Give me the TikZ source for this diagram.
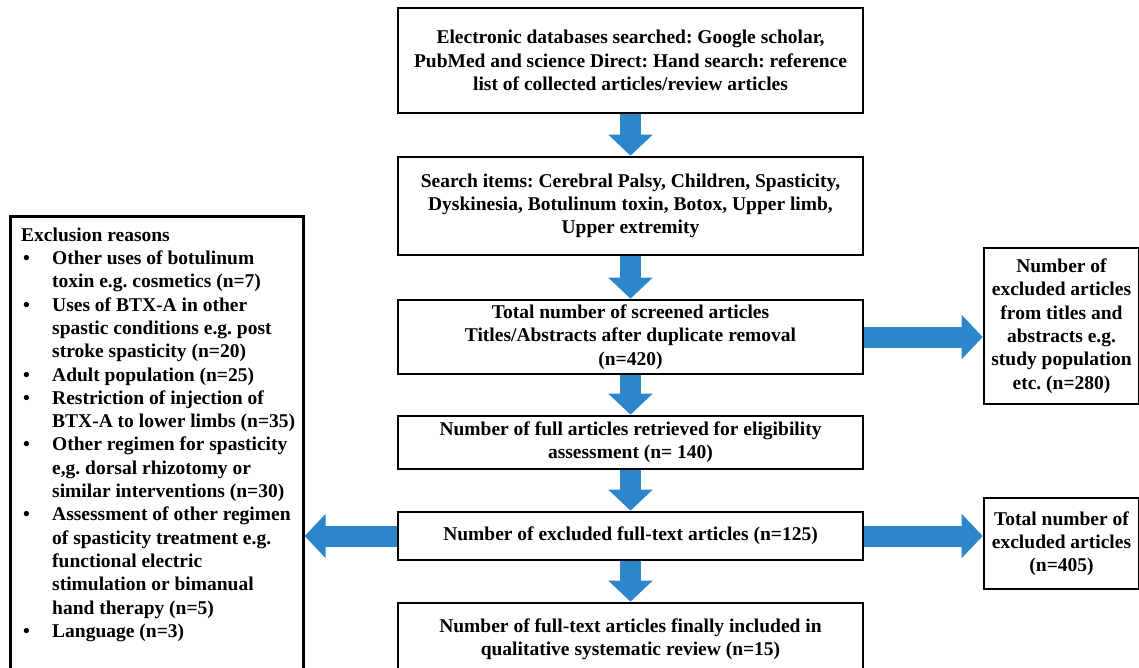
\documentclass[tikz,border=0pt]{standalone}
\usepackage{fontspec}
\setmainfont{Liberation Serif}
\usetikzlibrary{arrows.meta,backgrounds}
\definecolor{arrowblue}{RGB}{43,134,202}
\newcommand\bul{\makebox[31pt][l]{\hspace{2pt}\textbullet}}
\newcommand\ind{\hspace*{31pt}}
\frenchspacing
\tikzset{
 txt/.style={font=\fontsize{19.5}{23.3}\selectfont\bfseries},
 box/.style={txt, draw=black, line width=2.6pt, fill=white, align=center, inner sep=0pt},
 bigarrow/.style={draw=arrowblue, line width=21pt, -{Triangle[length=21pt,width=43pt]}},
}
\begin{document}
\begin{tikzpicture}[x=1pt,y=-1pt]
\path[use as bounding box] (0,0) rectangle (1139,667);
\clip (0,0) rectangle (1139,667);
% main column
\node[box, minimum width=465pt, minimum height=105pt] (b1) at (630.5,60.5)
 {Electronic databases searched: Google scholar,\\ PubMed and science Direct: Hand search: reference\\ list of collected articles/review articles};
\node[box, minimum width=465pt, minimum height=98pt] (b2) at (630.5,206)
 {Search items: Cerebral Palsy, Children, Spasticity,\\ Dyskinesia, Botulinum toxin, Botox, Upper limb,\\ Upper extremity};
\node[box, minimum width=465pt, minimum height=74pt] (b3) at (630.5,337)
 {Total number of screened articles\\ Titles/Abstracts after duplicate removal\\ (n=420)};
\node[box, minimum width=465pt, minimum height=53pt] (b4) at (630.5,442.5)
 {Number of full articles retrieved for eligibility\\ assessment (n= 140)};
\node[box, minimum width=465pt, minimum height=48pt] (b5) at (630.5,536)
 {Number of excluded full-text articles (n=125)};
\node[box, minimum width=465pt, minimum height=72pt] (b6) at (630.5,639)
 {Number of full-text articles finally included in\\ qualitative systematic review (n=15)};
% right column
\node[box, minimum width=155pt, minimum height=156pt] (r1) at (1061.5,326)
 {Number of\\ excluded articles\\ from titles and\\ abstracts e.g.\\ study population\\ etc. (n=280)};
\node[box, minimum width=155pt, minimum height=91pt] (r2) at (1061.5,543.5)
 {Total number of\\ excluded articles\\ (n=405)};
% left box
\node[box, minimum width=293pt, minimum height=470pt, anchor=north west] (L) at (9,215) {};
\node[txt, anchor=north west, align=left, inner sep=0pt] (Ltext) at (21,227.5)
 {Exclusion reasons\\
  \bul Other uses of botulinum\\
  \ind toxin e.g. cosmetics (n=7)\\
  \bul Uses of BTX-A in other\\
  \ind spastic conditions e.g. post\\
  \ind stroke spasticity (n=20)\\
  \bul Adult population (n=25)\\
  \bul Restriction of injection of\\
  \ind BTX-A to lower limbs (n=35)\\
  \bul Other regimen for spasticity\\
  \ind e,g. dorsal rhizotomy or\\
  \ind similar interventions (n=30)\\
  \bul Assessment of other regimen\\
  \ind of spasticity treatment e.g.\\
  \ind functional electric\\
  \ind stimulation or bimanual\\
  \ind hand therapy (n=5)\\
  \bul Language (n=3)};
% arrows
\begin{scope}[on background layer]
\draw[bigarrow] (b1.south) -- (b2.north);
\draw[bigarrow] (b2.south) -- (b3.north);
\draw[bigarrow] (b3.south) -- (b4.north);
\draw[bigarrow] (b4.south) -- (b5.north);
\draw[bigarrow] (b5.south) -- (b6.north);
\draw[bigarrow] (b3.east) -- (b3.east -| r1.west);
\draw[bigarrow] (b5.east) -- (b5.east -| r2.west);
\draw[bigarrow] (b5.west) -- (b5.west -| L.east);
\end{scope}
\end{tikzpicture}
\end{document}
